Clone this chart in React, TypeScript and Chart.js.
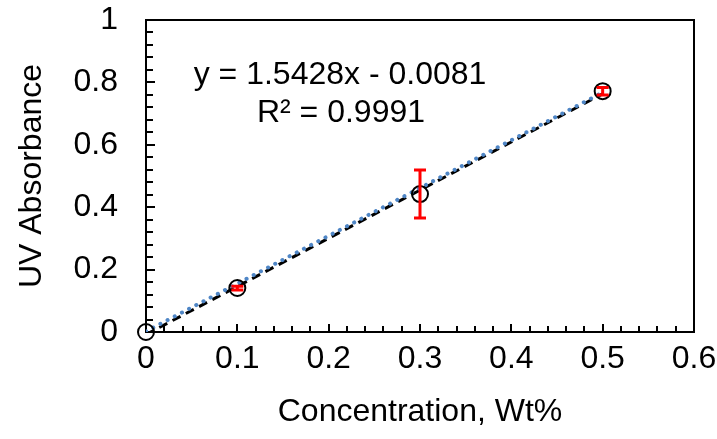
import React, { useEffect, useRef } from "react";
import { Chart, registerables } from "chart.js";

Chart.register(...registerables);

const concentration = [0, 0.1, 0.3, 0.5];
const absorbance = [0, 0.141, 0.442, 0.772];
const errorPlus = [0, 0.006, 0.077, 0.012];
const errorMinus = [0, 0.006, 0.077, 0.012];

const trendX = [0, 0.5];
const trendY = [-0.0081, 0.7633];
const dottedX = [0, 0.5];
const dottedY = [0.002, 0.768];

const xTicks = [0, 0.1, 0.2, 0.3, 0.4, 0.5, 0.6];
const yTicks = [0, 0.2, 0.4, 0.6, 0.8, 1];

const equationText = "y = 1.5428x - 0.0081";
const r2Text = "R² = 0.9991";
const xTitle = "Concentration, Wt%";
const yTitle = "UV Absorbance";

const FONT = "'Liberation Sans', Arial, sans-serif";
const FS = 32;

const errorBarPlugin = {
  id: "errorBars",
  afterDatasetsDraw(chart: any) {
    const { ctx, scales } = chart;
    const xs = scales.x;
    const ys = scales.y;
    ctx.save();
    ctx.strokeStyle = "#ff0000";
    ctx.lineWidth = 3;
    concentration.forEach((c, i) => {
      if (errorPlus[i] === 0 && errorMinus[i] === 0) return;
      const px = xs.getPixelForValue(c);
      const top = ys.getPixelForValue(absorbance[i] + errorPlus[i]);
      const bot = ys.getPixelForValue(absorbance[i] - errorMinus[i]);
      const cap = 6;
      ctx.beginPath();
      ctx.moveTo(px, top);
      ctx.lineTo(px, bot);
      ctx.moveTo(px - cap, top);
      ctx.lineTo(px + cap, top);
      ctx.moveTo(px - cap, bot);
      ctx.lineTo(px + cap, bot);
      ctx.stroke();
    });
    ctx.restore();
  },
};

const frameTicksPlugin = {
  id: "frameTicks",
  beforeDatasetsDraw(chart: any) {
    const { ctx, chartArea, scales } = chart;
    const xs = scales.x;
    const ys = scales.y;
    ctx.save();
    ctx.strokeStyle = "#000";
    ctx.lineWidth = 2;
    for (let k = 0; k <= 30; k++) {
      const v = k * 0.02;
      const px = Math.round(xs.getPixelForValue(v));
      const len = k % 5 === 0 ? 8 : 6;
      ctx.beginPath();
      ctx.moveTo(px, chartArea.bottom);
      ctx.lineTo(px, chartArea.bottom - len);
      ctx.stroke();
    }
    for (let k = 0; k <= 25; k++) {
      const v = k * 0.04;
      const py = Math.round(ys.getPixelForValue(v));
      const len = k % 5 === 0 ? 9 : 7;
      ctx.beginPath();
      ctx.moveTo(chartArea.left, py);
      ctx.lineTo(chartArea.left + len, py);
      ctx.stroke();
    }
    ctx.lineWidth = 2;
    ctx.strokeRect(chartArea.left, chartArea.top, chartArea.right - chartArea.left, chartArea.bottom - chartArea.top);
    ctx.fillStyle = "#000";
    ctx.font = `${FS}px ${FONT}`;
    ctx.textAlign = "center";
    ctx.textBaseline = "middle";
    ctx.fillText(equationText, 340, 75);
    ctx.fillText(r2Text, 341, 113);
    ctx.restore();
  },
};

export default function App() {
  const ref = useRef<HTMLCanvasElement>(null);
  useEffect(() => {
    document.body.style.margin = "0";
    const chart = new Chart(ref.current!, {
      type: "scatter",
      data: {
        datasets: [
          {
            label: "dotted",
            data: dottedX.map((x, i) => ({ x, y: dottedY[i] })),
            showLine: true,
            borderColor: "#4f86c6",
            borderWidth: 4,
            borderDash: [0.1, 8],
            borderCapStyle: "round",
            pointRadius: 0,
            order: 1,
          },
          {
            label: "trend",
            data: trendX.map((x, i) => ({ x, y: trendY[i] })),
            showLine: true,
            borderColor: "#000",
            borderWidth: 3,
            borderDash: [9, 6],
            pointRadius: 0,
            order: 2,
          },
          {
            label: "data",
            data: concentration.map((x, i) => ({ x, y: absorbance[i] })),
            showLine: false,
            pointRadius: 8,
            pointBorderWidth: 2,
            pointBorderColor: "#000",
            pointBackgroundColor: "rgba(0,0,0,0)",
            clip: false,
            order: 0,
          },
        ],
      },
      options: {
        animation: false,
        responsive: false,
        maintainAspectRatio: false,
        layout: { padding: { left: 0, top: 20, right: 23, bottom: 0 } },
        plugins: { legend: { display: false }, tooltip: { enabled: false } },
        scales: {
          x: {
            type: "linear",
            min: 0,
            max: 0.6,
            afterFit(scale: any) {
              scale.height = 107;
              scale.paddingLeft = 0;
              scale.paddingRight = 0;
            },
            afterBuildTicks(scale: any) {
              scale.ticks = xTicks.map((v) => ({ value: v }));
            },
            grid: { display: false, drawTicks: false },
            border: { display: false },
            ticks: {
              padding: 8,
              maxRotation: 0,
              color: "#000",
              font: { family: FONT, size: FS },
              callback: (v: any) => String(Math.round(v * 10) / 10),
            },
            title: {
              display: true,
              text: xTitle,
              color: "#000",
              font: { family: FONT, size: FS },
              padding: { top: 0, bottom: 8 },
            },
          },
          y: {
            type: "linear",
            min: 0,
            max: 1,
            afterFit(scale: any) {
              scale.width = 146;
              scale.paddingTop = 0;
              scale.paddingBottom = 0;
            },
            afterBuildTicks(scale: any) {
              scale.ticks = yTicks.map((v) => ({ value: v }));
            },
            grid: { display: false, drawTicks: false },
            border: { display: false },
            ticks: {
              padding: 28,
              color: "#000",
              font: { family: FONT, size: FS },
              callback: (v: any) => String(Math.round(v * 10) / 10),
            },
            title: {
              display: true,
              text: yTitle,
              color: "#000",
              font: { family: FONT, size: FS },
              padding: { top: 13, bottom: 0 },
            },
          },
        },
      },
      plugins: [errorBarPlugin, frameTicksPlugin],
    } as any);
    return () => chart.destroy();
  }, []);
  return (
    <div style={{ position: "absolute", left: 0, top: 0, width: 717, height: 439, background: "#fff" }}>
      <canvas ref={ref} width={717} height={439} style={{ width: 717, height: 439 }} />
    </div>
  );
}
